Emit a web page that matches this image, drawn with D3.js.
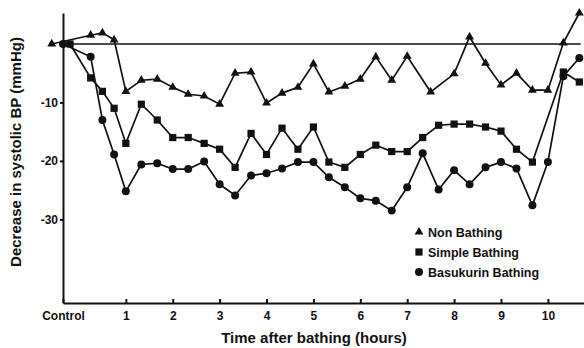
<!DOCTYPE html>
<html>
<head>
<meta charset="utf-8">
<script src="https://cdn.jsdelivr.net/npm/d3@7"></script>
<style>
  body { margin: 0; background: #fff; }
  text { font-family: "Liberation Sans", Arial, sans-serif; font-weight: bold; fill: #111; }
</style>
</head>
<body>
<script>
// hours after bathing (control measured before)
const nonTimes = [-0.58, 0.25, 0.5, 0.75, 1, 1.33, 1.67, 2, 2.33, 2.67, 3, 3.33, 3.67, 4, 4.33, 4.67, 5, 5.33, 5.67, 6, 6.33, 6.67, 7, 7.5, 8, 8.33, 8.67, 9, 9.33, 9.67, 10, 10.33, 10.67];
const nonValues = [0, 1.5, 1.9, 0.7, -8.1, -6.2, -6.0, -7.4, -8.6, -8.9, -10.3, -5.0, -4.8, -10.1, -8.4, -7.4, -3.4, -8.2, -7.2, -6.0, -2.2, -6.2, -2.1, -8.2, -5.1, 1.2, -3.3, -7.0, -5.0, -7.9, -7.9, 0.2, 5.3];

const simpleTimes = [-0.19, 0.25, 0.5, 0.75, 1, 1.33, 1.67, 2, 2.33, 2.67, 3, 3.33, 3.67, 4, 4.33, 4.67, 5, 5.33, 5.67, 6, 6.33, 6.67, 7, 7.33, 7.67, 8, 8.33, 8.67, 9, 9.33, 9.67, 10.33, 10.67];
const simpleValues = [0, -5.8, -8.1, -11.0, -17.0, -10.3, -13.0, -16.0, -16.0, -17.0, -18.0, -21.1, -15.3, -18.9, -14.4, -18.0, -14.2, -20.2, -21.1, -18.9, -17.3, -18.4, -18.4, -16.0, -13.9, -13.7, -13.7, -14.2, -14.9, -18.0, -20.2, -4.8, -6.5];

const basuTimes = [-0.34, 0.25, 0.5, 0.75, 1, 1.33, 1.67, 2, 2.33, 2.67, 3, 3.33, 3.67, 4, 4.33, 4.67, 5, 5.33, 5.67, 6, 6.33, 6.67, 7, 7.33, 7.67, 8, 8.33, 8.67, 9, 9.33, 9.67, 10, 10.33, 10.67];
const basuValues = [0, -2.2, -13.0, -18.9, -25.2, -20.6, -20.4, -21.4, -21.4, -20.1, -24.0, -25.9, -22.5, -22.1, -21.3, -20.2, -20.2, -22.8, -24.5, -26.4, -26.8, -28.5, -24.5, -18.7, -24.9, -21.6, -24.0, -21.1, -20.2, -21.3, -27.6, -20.2, -5.5, -2.4];

const seriesNames = ["Non Bathing", "Simple Bathing", "Basukurin Bathing"];
const xTicks = [-0.34, 1, 2, 3, 4, 5, 6, 7, 8, 9, 10];
const yTicks = [-10, -20, -30];

const width = 584, height = 348;

const svg = d3.select("body").append("svg")
    .attr("width", width)
    .attr("height", height);

const x = d3.scaleLinear().domain([-0.34, 10.77]).range([63, 584]);
const y = d3.scaleLinear().domain([-44.3, 5.3]).range([303, 13]);

// zero reference line
svg.append("line")
    .attr("x1", x(-0.34)).attr("x2", x(10.7))
    .attr("y1", y(0)).attr("y2", y(0))
    .attr("stroke", "#111").attr("stroke-width", 1.3);

// axes
const xAxis = svg.append("g")
    .attr("transform", "translate(0," + y.range()[0] + ")")
    .call(d3.axisBottom(x)
        .tickValues(xTicks)
        .tickSizeInner(-4).tickSizeOuter(0)
        .tickPadding(8)
        .tickFormat(d => d < 0 ? "Control" : d));
xAxis.selectAll("text").attr("font-size", 12).attr("fill", "#111");

const yAxis = svg.append("g")
    .attr("transform", "translate(" + x.range()[0] + ",0)")
    .call(d3.axisLeft(y)
        .tickValues(yTicks)
        .tickSizeInner(3).tickSizeOuter(0)
        .tickPadding(2)
        .tickFormat(d => String(d)));
yAxis.selectAll("text").attr("font-size", 12).attr("fill", "#111");

svg.selectAll(".domain, .tick line").attr("stroke", "#111").attr("stroke-width", 2);

// axis titles
svg.append("text")
    .attr("x", 314).attr("y", 343)
    .attr("text-anchor", "middle")
    .attr("font-size", 15)
    .text("Time after bathing (hours)");

svg.append("text")
    .attr("transform", "translate(21,152) rotate(-90)")
    .attr("text-anchor", "middle")
    .attr("font-size", 15)
    .text("Decrease in systolic BP (mmHg)");

// series
const series = [
    {name: seriesNames[0], times: nonTimes, values: nonValues, shape: d3.symbolTriangle, size: 34},
    {name: seriesNames[1], times: simpleTimes, values: simpleValues, shape: d3.symbolSquare, size: 52},
    {name: seriesNames[2], times: basuTimes, values: basuValues, shape: d3.symbolCircle, size: 50}
];

const line = d3.line()
    .x(d => x(d[0]))
    .y(d => y(d[1]));

series.forEach(s => {
    const pts = s.times.map((t, i) => [t, s.values[i]]);
    svg.append("path")
        .datum(pts)
        .attr("fill", "none")
        .attr("stroke", "#111")
        .attr("stroke-width", 1.7)
        .attr("d", line);

    svg.selectAll(null)
        .data(pts)
        .enter()
        .append("path")
        .attr("transform", d => "translate(" + x(d[0]) + "," + y(d[1]) + ")")
        .attr("d", d3.symbol().type(s.shape).size(s.size))
        .attr("fill", "#111");
});

// legend
const legend = svg.append("g").attr("transform", "translate(419,232)");
series.forEach((s, i) => {
    const row = legend.append("g").attr("transform", "translate(0," + (i * 20) + ")");
    row.append("path")
        .attr("d", d3.symbol().type(s.shape).size(s.size))
        .attr("fill", "#111");
    row.append("text")
        .attr("x", 9).attr("y", 4.5)
        .attr("font-size", 12.5)
        .text(s.name);
});
</script>
</body>
</html>
